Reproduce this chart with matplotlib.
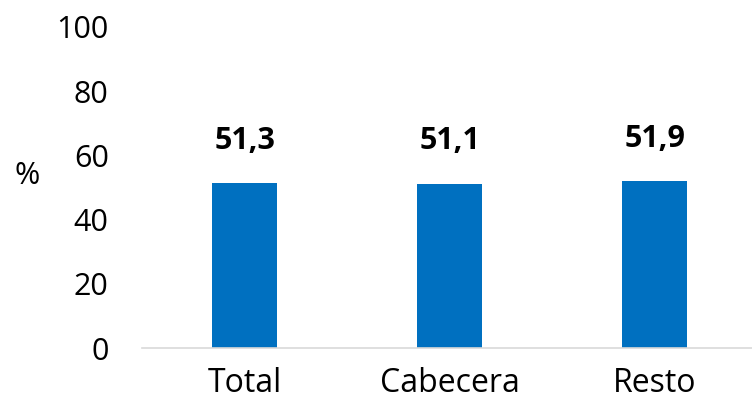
import matplotlib
matplotlib.use("Agg")
import matplotlib.pyplot as plt

categories = ["Total", "Cabecera", "Resto"]
values = [51.3, 51.1, 51.9]
value_labels = ["51,3", "51,1", "51,9"]
yticks = [0, 20, 40, 60, 80, 100]

plt.rcParams['font.family'] = ['Open Sans', 'DejaVu Sans']

fig = plt.figure(figsize=(7.52, 4.11), dpi=100)
W, H = 752, 411
left, right, bottom, top = 142, 752, 348, 27
ax = fig.add_axes([left / W, (H - bottom) / H, (right - left) / W, (bottom - top) / H])

x = list(range(len(categories)))
ax.bar(x, values, width=0.32, color="#0070C0", zorder=2)
ax.set_xlim(-0.5, 2.5 - 5 / 205)
ax.set_ylim(0, 100)

for xi, v, lab in zip(x, values, value_labels):
    ax.annotate(lab, (xi, v), xytext=(0, 20), textcoords="offset points",
                ha="center", va="bottom", fontsize=22, fontweight="bold", color="black")

ax.set_yticks(yticks)
ax.set_yticklabels([str(t) for t in yticks], fontsize=22)
ax.set_xticks(x)
ax.set_xticklabels(categories, fontsize=23)
ax.tick_params(axis="y", length=0, pad=24)
ax.tick_params(axis="x", length=0, pad=14)

for s in ["top", "right", "left"]:
    ax.spines[s].set_visible(False)
ax.spines["bottom"].set_color("#D9D9D9")
ax.spines["bottom"].set_linewidth(1.2)

fig.text(27 / W, (H - 176) / H, "%", fontsize=22, ha="center", va="center")

fig.savefig("out.png", dpi=100)
